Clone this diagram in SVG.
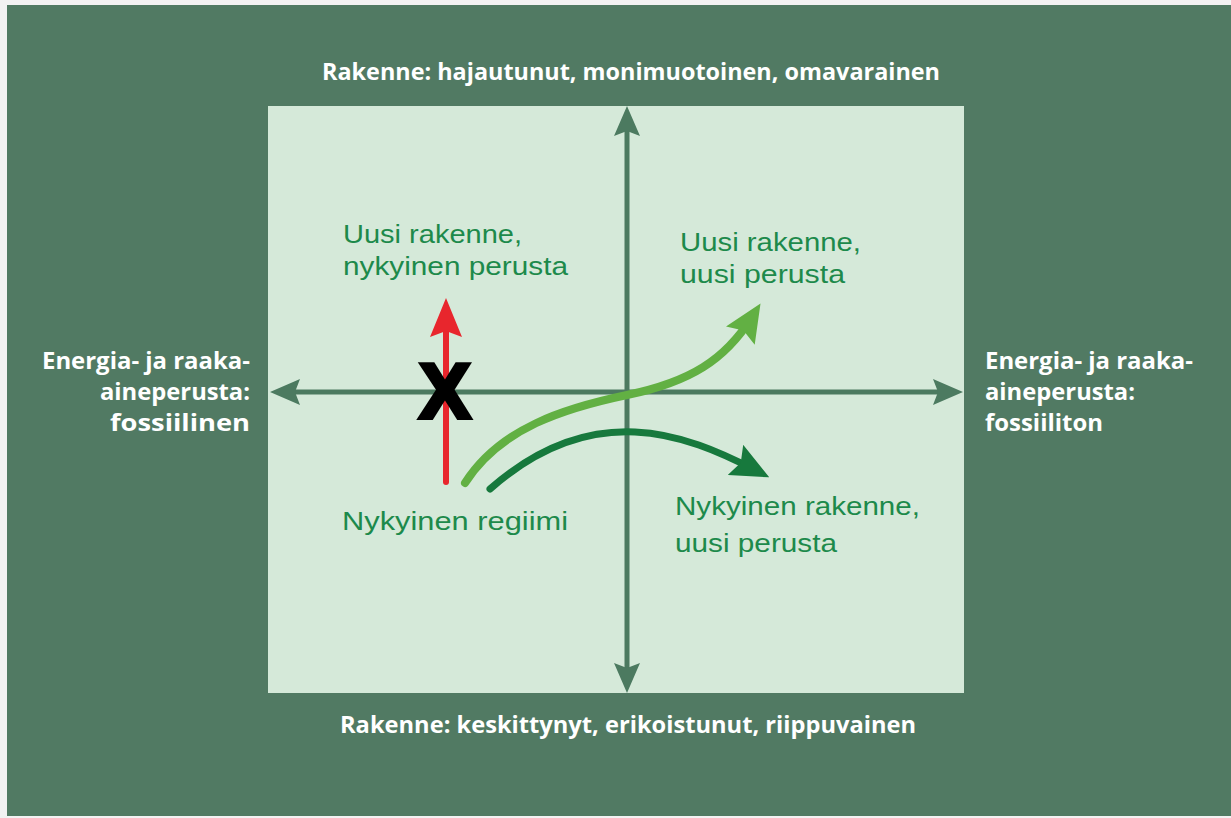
<svg xmlns="http://www.w3.org/2000/svg" width="1231" height="818" viewBox="0 0 1231 818">
<style>
.lbl{font-family:"Open Sans","Liberation Sans",sans-serif;font-weight:700;font-size:23px;fill:#ffffff}
.gl{font-family:"Liberation Sans",Arial,sans-serif;font-weight:400;font-size:26px;fill:#1d8a4b}
.axis{stroke:#4c7a60;stroke-width:5;fill:none}
</style>
<defs>
<marker id="ax" markerUnits="userSpaceOnUse" viewBox="0 0 30 26" refX="17" refY="13" markerWidth="30" markerHeight="26" orient="auto-start-reverse">
<path d="M0,0 L30,13 L0,26 L5,13 Z" fill="#4c7a60"/>
</marker>
<marker id="ar" markerUnits="userSpaceOnUse" viewBox="0 0 39 32" refX="24" refY="16" markerWidth="39" markerHeight="32" orient="auto">
<path d="M0,0 L39,16 L0,32 L6,16 Z" fill="#e8262d"/>
</marker>
<marker id="alg" markerUnits="userSpaceOnUse" viewBox="0 0 38 34" refX="22" refY="17" markerWidth="38" markerHeight="34" orient="auto">
<path d="M0,0 L38,17 L0,34 L6,17 Z" fill="#62b043"/>
</marker>
<marker id="adg" markerUnits="userSpaceOnUse" viewBox="0 0 38 34" refX="22" refY="17" markerWidth="38" markerHeight="34" orient="auto">
<path d="M0,0 L38,17 L0,34 L6,17 Z" fill="#17793d"/>
</marker>
</defs>
<rect x="0" y="0" width="1231" height="818" fill="#f2f2f2"/>
<rect x="7" y="5" width="1224" height="811" fill="#517a63"/>
<rect id="panel" x="268" y="106" width="696" height="587" fill="#d5e9d9"/>

<g id="connectors">
<line class="axis" x1="283" y1="392" x2="950" y2="392" marker-start="url(#ax)" marker-end="url(#ax)"/>
<line class="axis" x1="627" y1="119" x2="627" y2="680" marker-start="url(#ax)" marker-end="url(#ax)"/>
<line x1="446" y1="482" x2="446" y2="313" stroke="#e8262d" stroke-width="6" stroke-linecap="round" marker-end="url(#ar)"/>
<path d="M465,483 C500,428 565,408 627,395 C690,382 725,360 752,317" fill="none" stroke="#62b043" stroke-width="8" stroke-linecap="round" marker-end="url(#alg)"/>
<path d="M490,489 C540,445 590,430 635,432 C680,434 720,452 755,470" fill="none" stroke="#17793d" stroke-width="7" stroke-linecap="round" marker-end="url(#adg)"/>
</g>

<g id="blocked">
<text x="445" y="418" text-anchor="middle" font-family="Liberation Sans, Arial, sans-serif" font-weight="700" font-size="77" fill="#000" stroke="#000" stroke-width="4">X</text>
</g>

<g id="top-label"><text class="lbl" x="322" y="80" textLength="618" lengthAdjust="spacingAndGlyphs">Rakenne: hajautunut, monimuotoinen, omavarainen</text></g>
<g id="bottom-label"><text class="lbl" x="340" y="733" textLength="576" lengthAdjust="spacingAndGlyphs">Rakenne: keskittynyt, erikoistunut, riippuvainen</text></g>
<g id="left-label">
<text class="lbl" x="250" y="369" text-anchor="end" textLength="208" lengthAdjust="spacingAndGlyphs">Energia- ja raaka-</text>
<text class="lbl" x="250" y="400" text-anchor="end" textLength="150" lengthAdjust="spacingAndGlyphs">aineperusta:</text>
<text class="lbl" x="250" y="431" text-anchor="end" textLength="140" lengthAdjust="spacingAndGlyphs">fossiilinen</text>
</g>
<g id="right-label">
<text class="lbl" x="985" y="369" textLength="208" lengthAdjust="spacingAndGlyphs">Energia- ja raaka-</text>
<text class="lbl" x="985" y="400" textLength="150" lengthAdjust="spacingAndGlyphs">aineperusta:</text>
<text class="lbl" x="985" y="431" textLength="118" lengthAdjust="spacingAndGlyphs">fossiiliton</text>
</g>

<g id="q-top-left">
<text class="gl" x="343" y="243" textLength="179" lengthAdjust="spacingAndGlyphs">Uusi rakenne,</text>
<text class="gl" x="343" y="275" textLength="225" lengthAdjust="spacingAndGlyphs">nykyinen perusta</text>
</g>
<g id="q-top-right">
<text class="gl" x="680" y="251" textLength="181" lengthAdjust="spacingAndGlyphs">Uusi rakenne,</text>
<text class="gl" x="680" y="283" textLength="165" lengthAdjust="spacingAndGlyphs">uusi perusta</text>
</g>
<g id="current-regime">
<text class="gl" x="342" y="530" textLength="226" lengthAdjust="spacingAndGlyphs">Nykyinen regiimi</text>
</g>
<g id="q-bottom-right">
<text class="gl" x="675" y="515" textLength="245" lengthAdjust="spacingAndGlyphs">Nykyinen rakenne,</text>
<text class="gl" x="675" y="552" textLength="162" lengthAdjust="spacingAndGlyphs">uusi perusta</text>
</g>
</svg>
